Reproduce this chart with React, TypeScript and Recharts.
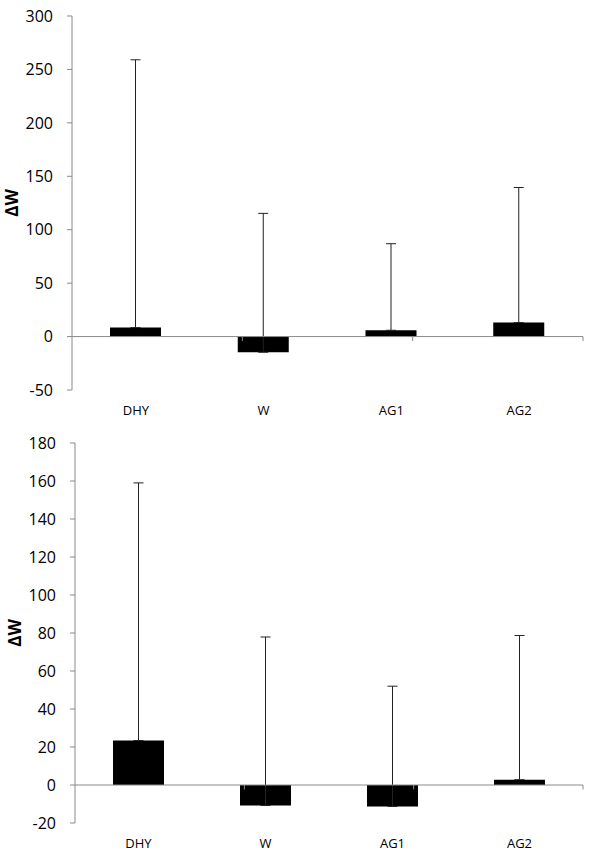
import React from 'react';
import { BarChart, Bar, XAxis, YAxis, ErrorBar, ReferenceLine } from 'recharts';

const categories = ['DHY', 'W', 'AG1', 'AG2'];

const topMeans = [8.4, -14.7, 5.9, 13.1];
const topErrUp = [250.6, 130, 81, 126.4];
const topTicks = [-50, 0, 50, 100, 150, 200, 250, 300];

const bottomMeans = [23.4, -10.8, -11.3, 2.8];
const bottomErrUp = [135.6, 88.7, 63.3, 75.9];
const bottomTicks = [-20, 0, 20, 40, 60, 80, 100, 120, 140, 160, 180];

const boundaryTicks = [1, 2, 3, 4];

const FONT = '"Open Sans", "DejaVu Sans", sans-serif';
const AXIS_GRAY = '#8a8a8a';

type PanelProps = {
  means: number[];
  errs: number[];
  ticks: number[];
  height: number;
  marginTop: number;
  axisWidth: number;
  xAxisHeight: number;
  labelX: number;
};

function Panel({ means, errs, ticks, height, marginTop, axisWidth, xAxisHeight, labelX }: PanelProps) {
  const data = categories.map((c, i) => ({ name: c, value: means[i], err: [0, errs[i]] }));
  const dMin = ticks[0];
  const dMax = ticks[ticks.length - 1];
  const plotH = height - marginTop - xAxisHeight;
  const tickUnits = (4.5 * (dMax - dMin)) / plotH;

  const renderLabel = (props: any) => {
    const vb = props.viewBox || {};
    const cx = (vb.x || 0) + labelX;
    const cy = (vb.y || 0) + (vb.height || 0) / 2;
    return (
      <text
        x={cx}
        y={cy}
        transform={`rotate(-90 ${cx} ${cy})`}
        textAnchor="middle"
        dominantBaseline="central"
        fontWeight="bold"
        fontSize={17}
        fontFamily={FONT}
        fill="#000"
      >
        ΔW
      </text>
    );
  };

  return (
    <BarChart
      width={600}
      height={height}
      data={data}
      margin={{ top: marginTop, right: 17, bottom: 0, left: 0 }}
    >
      <XAxis
        dataKey="name"
        axisLine={false}
        tickLine={false}
        tickSize={0}
        tickMargin={16}
        height={xAxisHeight}
        interval={0}
        tick={{ fontSize: 13, fill: '#000', fontFamily: FONT }}
      />
      <XAxis xAxisId="num" type="number" domain={[0, 4]} hide />
      <YAxis
        domain={[dMin, dMax]}
        ticks={ticks}
        interval={0}
        width={axisWidth}
        stroke={AXIS_GRAY}
        tickSize={5}
        tickMargin={14}
        tick={{ fontSize: 16, fill: '#000', fontFamily: FONT }}
        label={{ content: renderLabel }}
      />
      <Bar dataKey="value" fill="#000" barSize={51} isAnimationActive={false}>
        <ErrorBar dataKey="err" width={5} stroke="#222" strokeWidth={1} direction="y" />
      </Bar>
      <ReferenceLine y={0} stroke={AXIS_GRAY} strokeWidth={1} />
      {boundaryTicks.map((b) => (
        <ReferenceLine
          key={b}
          xAxisId="num"
          segment={[
            { x: b, y: 0 },
            { x: b, y: -tickUnits },
          ]}
          stroke={AXIS_GRAY}
          strokeWidth={1}
          ifOverflow="visible"
        />
      ))}
    </BarChart>
  );
}

export default function App() {
  return (
    <div style={{ position: 'absolute', left: 0, top: 0, width: 600, height: 865, background: '#fff' }}>
      <Panel
        means={topMeans}
        errs={topErrUp}
        ticks={topTicks}
        height={430}
        marginTop={16}
        axisWidth={72}
        xAxisHeight={40}
        labelX={11}
      />
      <Panel
        means={bottomMeans}
        errs={bottomErrUp}
        ticks={bottomTicks}
        height={435}
        marginTop={13}
        axisWidth={75}
        xAxisHeight={42}
        labelX={14.5}
      />
    </div>
  );
}
